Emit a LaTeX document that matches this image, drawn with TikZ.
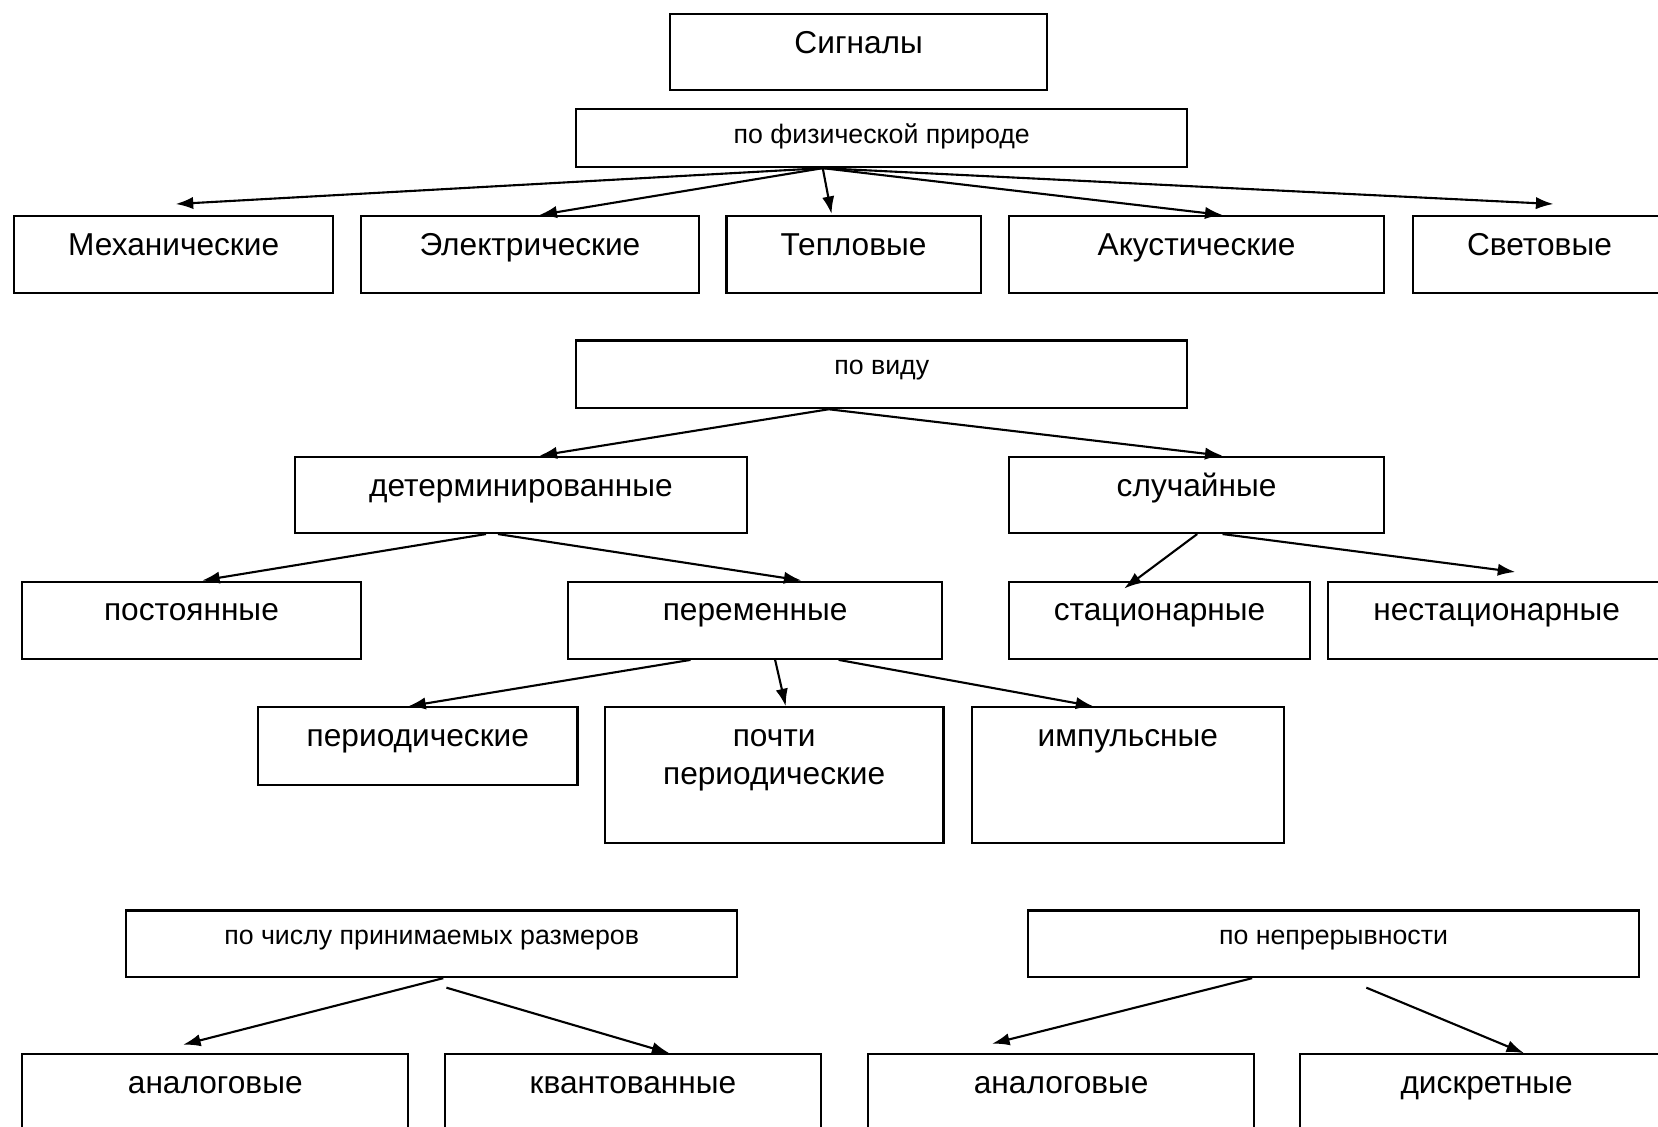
\documentclass[tikz,border=0pt]{standalone}
\usepackage{fontspec}
\setmainfont{Liberation Sans}
\usetikzlibrary{arrows.meta,calc}

\tikzset{
  box/.style={draw=black, line width=0.6pt, anchor=north west, inner sep=0pt, align=center},
  bigbox/.style={box, font=\fontsize{9.0}{10.7}\selectfont, text height=11.2pt},
  smallbox/.style={box, font=\fontsize{7.6}{9}\selectfont, text height=9.7pt},
  link/.style={-{Latex[length=5pt,width=3.5pt]}, draw=black, line width=0.6pt},
}

\begin{document}
\begin{tikzpicture}[x=0.01cm, y=-0.01cm]
    \clip (0,0) rectangle (1658,1126);

    % top
    \node (sig) [bigbox, minimum width=3.77cm, text depth=10.4pt] at (669,13) {Сигналы};
    \node (fiz) [smallbox, minimum width=6.11cm, text depth=6.8pt] at (575,108) {по физической природе};

    % row 1
    \node (mech)  [bigbox, minimum width=3.19cm, text depth=10.7pt] at (13,215)    {Механические};
    \node (el)    [bigbox, minimum width=3.385cm, text depth=10.7pt] at (359.5,215) {Электрические};
    \node (tep)   [bigbox, minimum width=2.54cm, text depth=10.7pt] at (725.4,215) {Тепловые};
    \node (ak)    [bigbox, minimum width=3.754cm, text depth=10.7pt] at (1007.7,215) {Акустические};
    \node (svet)  [bigbox, minimum width=2.535cm, text depth=10.7pt] at (1411.6,215) {Световые};

    % po vidu
    \node (vid)   [smallbox, minimum width=6.11cm, text depth=9.56pt] at (575,339.4) {по виду};
    \node (det)   [bigbox, minimum width=4.515cm, text depth=10.48pt] at (294,455.7) {детерминированные};
    \node (sluch) [bigbox, minimum width=3.754cm, text depth=10.48pt] at (1007.7,455.7) {случайные};

    \node (post)   [bigbox, minimum width=3.384cm, text depth=10.77pt] at (21.1,580.5) {постоянные};
    \node (per)    [bigbox, minimum width=3.743cm, text depth=10.77pt] at (566.8,580.5) {переменные};
    \node (stac)   [bigbox, minimum width=3.014cm, text depth=10.77pt] at (1007.7,580.5) {стационарные};
    \node (nestac) [bigbox, minimum width=3.37cm, text depth=10.77pt] at (1327,580.5) {нестационарные};

    \node (period) [bigbox, minimum width=3.193cm, text depth=10.77pt] at (257,706.3) {периодические};
    \node (pochti) [bigbox, minimum width=3.384cm, text height=21.9pt, text depth=16.63pt] at (603.8,706.3) {почти\\периодические};
    \node (imp)    [bigbox, minimum width=3.119cm, text depth=27.33pt] at (970.7,706.3) {импульсные};

    % bottom
    \node (chislo) [smallbox, minimum width=6.112cm, text depth=9.25pt] at (124.8,909.4) {по числу принимаемых размеров};
    \node (nepr)   [smallbox, minimum width=6.112cm, text depth=9.25pt] at (1026.7,909.4) {по непрерывности};

    \node (an1)  [bigbox, minimum width=3.86cm, text depth=24.9pt] at (21.1,1053.2) {аналоговые};
    \node (kv)   [bigbox, minimum width=3.754cm, text depth=24.9pt] at (444.1,1053.2) {квантованные};
    \node (an2)  [bigbox, minimum width=3.859cm, text depth=24.9pt] at (867.1,1053.2) {аналоговые};
    \node (disk) [bigbox, minimum width=3.74cm, text depth=24.9pt] at (1298.5,1053.2) {дискретные};

    % arrows row 1
    \draw [link] ($(fiz.south)+(-59,0)$) -- ($(mech.north)+(2,-11)$);
    \draw [link] ($(fiz.south)+(-59,0)$) -- ($(el.north)+(9.5,0)$);
    \draw [link] ($(fiz.south)+(-59,0)$) -- ($(tep.north)+(-22,-1)$);
    \draw [link] ($(fiz.south)+(-59,0)$) -- ($(ak.north)+(26,0)$);
    \draw [link] ($(fiz.south)+(-59,0)$) -- ($(svet.north)+(14,-11)$);

    % arrows po vidu
    \draw [link] ($(vid.south)+(-53,0)$) -- ($(det.north)+(18.5,0)$);
    \draw [link] ($(vid.south)+(-53,0)$) -- ($(sluch.north)+(26,0)$);
    \draw [link] ($(det.south)+(-35,0)$) -- ($(post.north)+(10.6,0)$);
    \draw [link] ($(det.south)+(-23,0)$) -- ($(per.north)+(46.4,0)$);
    \draw [link] ($(sluch.south)+(0.6,0)$) -- ($(stac.north)+(-35.4,8)$);
    \draw [link] ($(sluch.south)+(26,0)$) -- ($(nestac.north)+(18.7,-8.5)$);
    \draw [link] ($(per.south)+(-64.6,0)$) -- ($(period.north)+(-9.6,0)$);
    \draw [link] ($(per.south)+(20,0)$) -- ($(pochti.north)+(11.6,0)$);
    \draw [link] ($(per.south)+(83.5,0)$) -- ($(imp.north)+(-34.4,0)$);

    % arrows bottom
    \draw [link] ($(chislo.south)+(11.6,0)$) -- ($(an1.north)+(-32.2,-8.5)$);
    \draw [link] ($(chislo.south)+(14.8,9.5)$) -- ($(kv.north)+(36.5,0)$);
    \draw [link] ($(nepr.south)+(-81.4,0)$) -- ($(an2.north)+(-69.2,-9.5)$);
    \draw [link] ($(nepr.south)+(32.8,9.5)$) -- ($(disk.north)+(37.4,0)$);

\end{tikzpicture}
\end{document}
